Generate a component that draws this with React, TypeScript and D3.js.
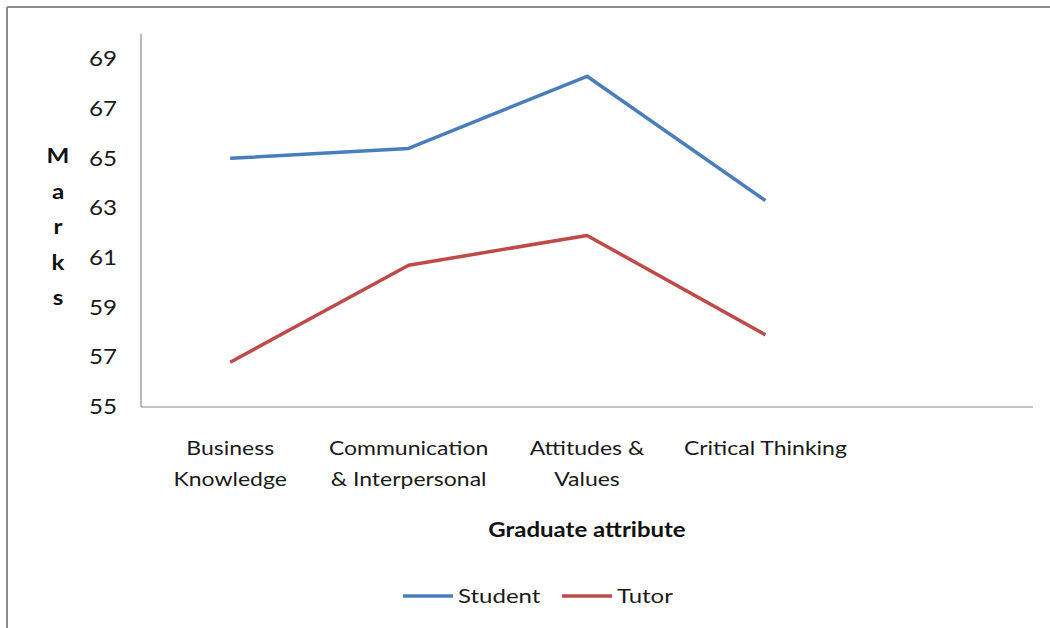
import React, { useEffect, useRef } from 'react';
import * as d3 from 'd3';

const categories = ['Business Knowledge', 'Communication & Interpersonal', 'Attitudes & Values', 'Critical Thinking', ''];
const categoryLines = [['Business', 'Knowledge'], ['Communication', '& Interpersonal'], ['Attitudes &', 'Values'], ['Critical Thinking'], []];
const studentMarks = [65.0, 65.4, 68.3, 63.3];
const tutorMarks = [56.8, 60.7, 61.9, 57.9];
const yTicks = [55, 57, 59, 61, 63, 65, 67, 69];
const seriesNames = ['Student', 'Tutor'];
const seriesColors = ['#4a7ebb', '#be4b48'];

const FONT = 'Lato, "Open Sans", sans-serif';

// the source picture is a bit stretched sideways, so text gets a small x scale
function addText(g: any, x: number, y: number, txt: string, opts: any = {}) {
  const { size = 20, weight = 'normal', anchor = 'start', sx = 1.15, dy = '0', fill = '#1a1a1a' } = opts;
  return g.append('text')
    .attr('transform', `translate(${x},${y}) scale(${sx},1)`)
    .attr('dy', dy)
    .attr('text-anchor', anchor)
    .attr('font-family', FONT).attr('font-size', size).attr('font-weight', weight)
    .attr('fill', fill).text(txt);
}

export default function App() {
  const svgRef = useRef<SVGSVGElement>(null);

  useEffect(() => {
    const svg = d3.select(svgRef.current);
    svg.selectAll('*').remove();

    const margin = { top: 34, left: 141, right: 1033, bottom: 407 };

    // frame border (top and left only visible)
    svg.append('line').attr('x1', 7).attr('x2', 1050).attr('y1', 7).attr('y2', 7)
      .attr('stroke', '#8c8c8c').attr('stroke-width', 2);
    svg.append('line').attr('x1', 7).attr('x2', 7).attr('y1', 7).attr('y2', 628)
      .attr('stroke', '#8c8c8c').attr('stroke-width', 2);

    const x = d3.scaleBand().domain(categories.map((c, i) => String(i)))
      .range([margin.left, margin.right]);
    const y = d3.scaleLinear().domain([55, 70]).range([margin.bottom, margin.top]);

    const g = svg.append('g');

    // axes
    g.append('line').attr('x1', margin.left).attr('x2', margin.left)
      .attr('y1', margin.top).attr('y2', margin.bottom).attr('stroke', '#8c8c8c').attr('stroke-width', 1.2);
    g.append('line').attr('x1', margin.left).attr('x2', margin.right)
      .attr('y1', margin.bottom).attr('y2', margin.bottom).attr('stroke', '#8c8c8c').attr('stroke-width', 1.2);

    yTicks.forEach((t) => {
      addText(g, 117, y(t), String(t), { size: 20.5, anchor: 'end', dy: '0.35em', sx: 1.18 });
    });

    categoryLines.forEach((lines, i) => {
      const cx = (x(String(i)) as number) + x.bandwidth() / 2;
      lines.forEach((t, j) => {
        addText(g, cx, 455 + j * 30.5, t, { anchor: 'middle' });
      });
    });

    const line = d3.line<number>()
      .x((d, i) => (x(String(i)) as number) + x.bandwidth() / 2)
      .y((d) => y(d));

    [studentMarks, tutorMarks].forEach((vals, k) => {
      g.append('path').datum(vals).attr('d', line)
        .attr('fill', 'none').attr('stroke', seriesColors[k]).attr('stroke-width', 3.5)
        .attr('stroke-linejoin', 'round');
    });

    // y-axis label, stacked letters
    'Marks'.split('').forEach((ch, i) => {
      addText(g, 58, 163 + i * 35.5, ch, { anchor: 'middle', weight: 'bold', size: 21, fill: '#111' });
    });

    addText(g, 587, 537, 'Graduate attribute', { anchor: 'middle', weight: 'bold', size: 20.5, sx: 1.17, fill: '#111' });

    // legend
    const legendX = [403, 562];
    seriesNames.forEach((name, k) => {
      const lg = g.append('g').attr('transform', `translate(${legendX[k]},596)`);
      lg.append('line').attr('x1', 0).attr('x2', 50).attr('y1', 0).attr('y2', 0)
        .attr('stroke', seriesColors[k]).attr('stroke-width', 3.5);
      addText(lg, 55, 0, name, { dy: '0.35em', sx: 1.2 });
    });
  }, []);

  return (
    <svg ref={svgRef} width={1050} height={628}
      style={{ position: 'absolute', left: 0, top: 0, background: '#fff' }} />
  );
}
